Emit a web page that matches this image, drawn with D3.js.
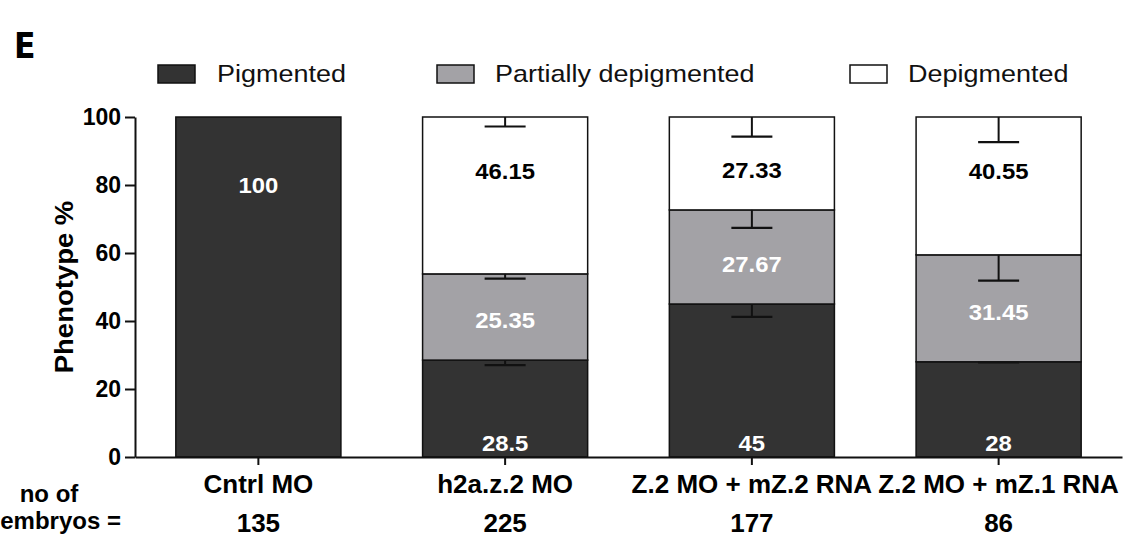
<!DOCTYPE html>
<html><head><meta charset="utf-8">
<script src="https://cdn.jsdelivr.net/npm/d3@7"></script>
<style>
body{margin:0;background:#fff;}
svg{display:block;font-family:"Liberation Sans",Arial,Helvetica,sans-serif;}
</style></head>
<body><svg id="c" width="1124" height="537"></svg>
<script>
// ---- data ----
const categories = ["Cntrl MO", "h2a.z.2 MO", "Z.2 MO + mZ.2 RNA", "Z.2 MO + mZ.1 RNA"];
const embryoCounts = ["135", "225", "177", "86"];
const seriesNames = ["Pigmented", "Partially depigmented", "Depigmented"];
const pigmented = [100, 28.5, 45, 28];
const partial = [0, 25.35, 27.67, 31.45];
const depigmented = [0, 46.15, 27.33, 40.55];
// error bars (SEM) for each segment, drawn downward from segment top
const pigErr = [0, 1.5, 3.8, 0.2];
const partErr = [0, 1.4, 5.3, 7.6];
const depErr = [0, 2.8, 5.8, 7.4];
// label anchor values (in %)
const pigLabelAt = [80, 4, 4, 4];
const partLabelAt = [0, 40.3, 56.8, 42.6];
const depLabelAt = [0, 84, 84.5, 84];
const yTicks = [0, 20, 40, 60, 80, 100];
const yLabel = "Phenotype %";
const panelLetter = "E";

const colors = ["#333333", "#a3a2a6", "#ffffff"];
const textColors = ["#ffffff", "#ffffff", "#000000"];

const svg = d3.select("#c");
const x0 = 135, x1 = 1122, yTop = 117, yBot = 457;
const x = d3.scaleBand().domain(categories).range([x0, x1]).paddingInner(0.331).paddingOuter(0.1655);
const y = d3.scaleLinear().domain([0, 100]).range([yBot, yTop]);

function stext(px, py, sx, txt) {
  return svg.append("text").attr("transform", `translate(${px},${py}) scale(${sx},1)`).text(txt);
}

// panel letter
svg.append("text").attr("x", 14).attr("y", 58).attr("font-size", 35).attr("font-weight", "bold")
  .attr("font-family", "'DejaVu Sans Condensed','Liberation Sans',sans-serif").text(panelLetter);

// legend
const legX = [158, 437, 850];
const legTX = [217, 495, 908];
seriesNames.forEach((s, i) => {
  svg.append("rect").attr("x", legX[i]).attr("y", 65).attr("width", 37).attr("height", 18)
    .attr("fill", colors[i]).attr("stroke", "#111").attr("stroke-width", 1.5);
  stext(legTX[i], 82, 1.125, s).attr("font-size", 24).attr("fill", "#111");
});

// stacked data
const vals = [pigmented, partial, depigmented];
const errs = [pigErr, partErr, depErr];
const labAt = [pigLabelAt, partLabelAt, depLabelAt];
const rows = categories.map((c, i) => ({cat: c, p0: pigmented[i], p1: partial[i], p2: depigmented[i]}));
const stack = d3.stack().keys(["p0", "p1", "p2"])(rows);

const g = svg.append("g");
stack.forEach((layer, si) => {
  layer.forEach((d, ci) => {
    if (d[1] - d[0] <= 0) return;
    g.append("rect").attr("x", x(categories[ci])).attr("width", x.bandwidth())
      .attr("y", y(d[1])).attr("height", y(d[0]) - y(d[1]))
      .attr("fill", colors[si]).attr("stroke", "#111").attr("stroke-width", 1.5);
  });
});
// error bars
stack.forEach((layer, si) => {
  layer.forEach((d, ci) => {
    const e = errs[si][ci];
    if (d[1] - d[0] <= 0 || e <= 0) return;
    const cx = x(categories[ci]) + x.bandwidth() / 2;
    g.append("line").attr("x1", cx).attr("x2", cx).attr("y1", y(d[1])).attr("y2", y(d[1] - e))
      .attr("stroke", "#111").attr("stroke-width", 2);
    g.append("line").attr("x1", cx - 20.5).attr("x2", cx + 20.5).attr("y1", y(d[1] - e)).attr("y2", y(d[1] - e))
      .attr("stroke", "#111").attr("stroke-width", 2.2);
  });
});
// value labels
stack.forEach((layer, si) => {
  layer.forEach((d, ci) => {
    const v = vals[si][ci];
    if (v <= 0) return;
    const cx = x(categories[ci]) + x.bandwidth() / 2;
    stext(cx, y(labAt[si][ci]) + 8, 1.06, String(v))
      .attr("text-anchor", "middle").attr("font-size", 22.5).attr("font-weight", "bold")
      .attr("fill", textColors[si]);
  });
});

// y axis
const ya = svg.append("g").attr("transform", `translate(${x0},0)`)
  .call(d3.axisLeft(y).tickValues(yTicks).tickSize(10).tickSizeOuter(0).tickPadding(4));
ya.select(".domain").attr("stroke", "#111").attr("stroke-width", 2);
ya.selectAll(".tick line").attr("stroke", "#111").attr("stroke-width", 2);
ya.selectAll(".tick text").attr("font-size", 23).attr("font-weight", "bold").attr("fill", "#000")
  .attr("font-family", "'Liberation Sans',Arial,sans-serif");

// x axis
const xa = svg.append("g").attr("transform", `translate(0,${yBot})`)
  .call(d3.axisBottom(x).tickSize(8).tickSizeOuter(0).tickPadding(10));
xa.select(".domain").attr("stroke", "#111").attr("stroke-width", 2);
xa.selectAll(".tick line").attr("stroke", "#111").attr("stroke-width", 2);
xa.selectAll(".tick text").attr("font-size", 26).attr("font-weight", "bold").attr("fill", "#000")
  .attr("font-family", "'Liberation Sans',Arial,sans-serif");

// embryo counts
categories.forEach((c, i) => {
  svg.append("text").attr("x", x(c) + x.bandwidth() / 2).attr("y", 532).attr("text-anchor", "middle")
    .attr("font-size", 26).attr("font-weight", "bold").text(embryoCounts[i]);
});
svg.append("text").attr("x", 49).attr("y", 502).attr("text-anchor", "middle")
  .attr("font-size", 24).attr("font-weight", "bold").text("no of");
svg.append("text").attr("x", 121).attr("y", 529).attr("text-anchor", "end")
  .attr("font-size", 24).attr("font-weight", "bold").text("embryos =");

// y label
svg.append("text").attr("transform", "translate(73,287) rotate(-90) scale(1.1,1)").attr("text-anchor", "middle")
  .attr("font-size", 25).attr("font-weight", "bold").text(yLabel);
</script></body></html>
